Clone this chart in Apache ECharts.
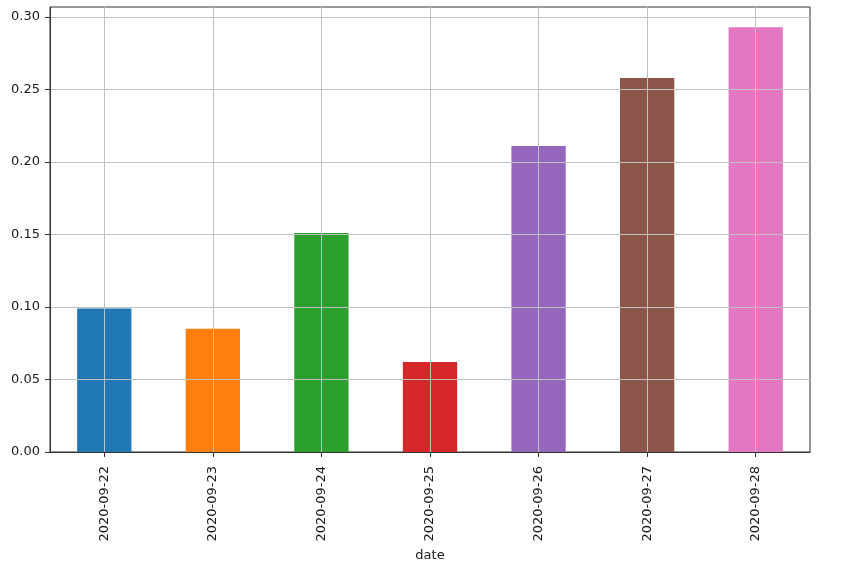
<!DOCTYPE html>
<html>
<head>
<meta charset="utf-8">
<script src="https://cdn.jsdelivr.net/npm/echarts@6/dist/echarts.min.js"></script>
<style>
  html, body { margin: 0; padding: 0; background: #fff; }
  #main { width: 851px; height: 569px; }
</style>
</head>
<body>
<div id="main"></div>
<script>
  // data
  const dates = ['2020-09-22', '2020-09-23', '2020-09-24', '2020-09-25', '2020-09-26', '2020-09-27', '2020-09-28']
  const values = [0.099, 0.085, 0.151, 0.062, 0.211, 0.258, 0.293]
  const barColors = ['#1f77b4', '#ff7f0e', '#2ca02c', '#d62728', '#9467bd', '#8c564b', '#e377c2']
  const yTicks = [0, 0.05, 0.1, 0.15, 0.2, 0.25, 0.3]

  const font = 'DejaVu Sans'
  const textColor = '#1a1a1a'
  const gridColor = '#c0c0c0'

  const myChart = echarts.init(document.getElementById('main'))
  myChart.setOption({
    animation: false,
    textStyle: { fontFamily: font },
    grid: {
      left: 50,
      right: 41,
      top: 7,
      bottom: 117,
      show: true,
      borderColor: '#333',
      borderWidth: 1,
      backgroundColor: 'transparent'
    },
    xAxis: {
      type: 'category',
      data: dates,
      z: 5,
      name: 'date',
      nameLocation: 'middle',
      nameGap: 93,
      nameTextStyle: { color: textColor, fontSize: 13, fontFamily: font },
      axisLine: { show: true, lineStyle: { color: '#333', width: 1 } },
      axisTick: { show: true, alignWithLabel: true, length: 5, lineStyle: { color: '#333' } },
      axisLabel: { rotate: 90, margin: 14, color: textColor, fontSize: 13, fontFamily: font },
      // gridlines through the category centres, like the ticks
      splitLine: { show: true, alignWithLabel: true, lineStyle: { color: gridColor, width: 1 } }
    },
    yAxis: {
      type: 'value',
      min: 0,
      max: 0.3069,
      interval: 0.05,
      z: 5,
      axisLine: { show: true, lineStyle: { color: '#333', width: 1 } },
      axisTick: { show: true, length: 5, customValues: yTicks, lineStyle: { color: '#333' } },
      axisLabel: {
        customValues: yTicks,
        margin: 10,
        color: textColor,
        fontSize: 13,
        fontFamily: font,
        formatter: (v) => v.toFixed(2)
      },
      splitLine: { show: true, lineStyle: { color: gridColor, width: 1 } }
    },
    series: [
      {
        type: 'bar',
        barWidth: '50%',
        data: values.map((v, i) => ({ value: v, itemStyle: { color: barColors[i] } }))
      }
    ]
  })
</script>
</body>
</html>
